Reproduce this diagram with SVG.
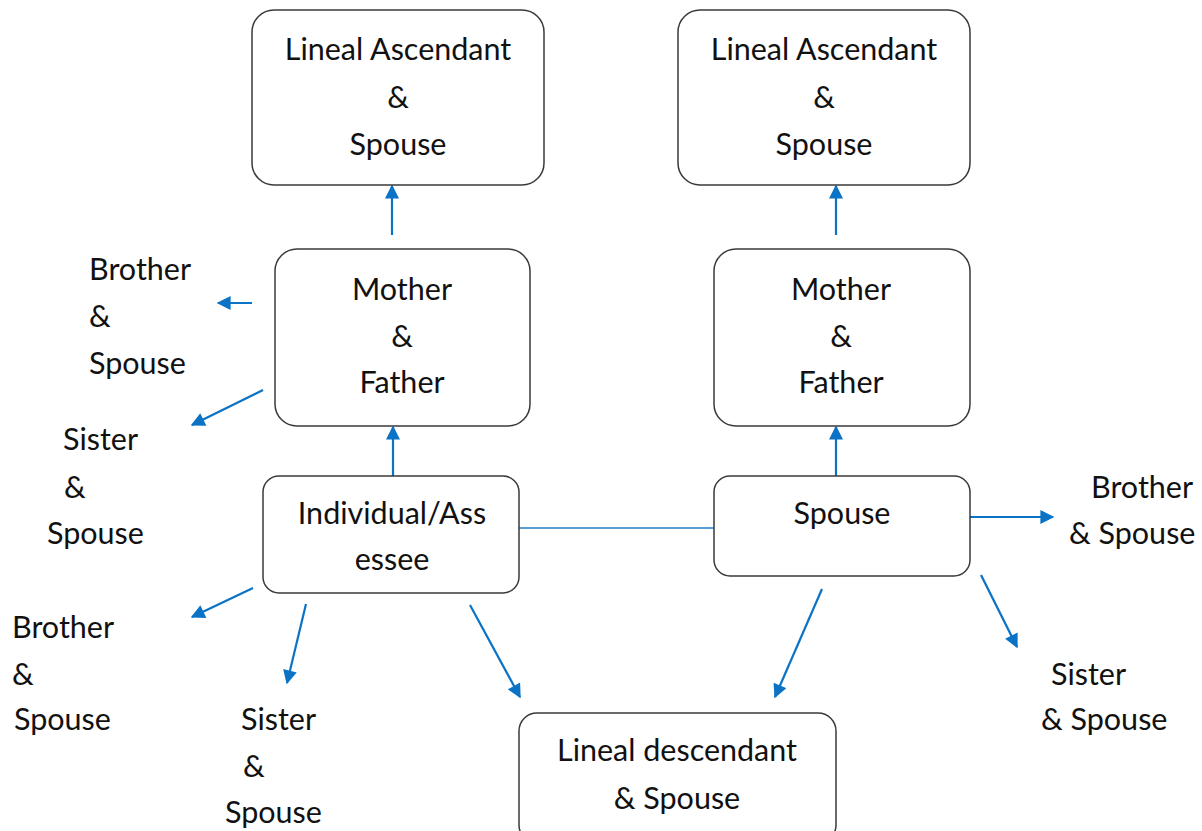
<svg xmlns="http://www.w3.org/2000/svg" width="1202" height="831" viewBox="0 0 1202 831">
<defs>
<style>
.box{fill:#fff;stroke:#3a3a3a;stroke-width:1.5}
text{font-family:Lato,"Liberation Sans",sans-serif;font-size:30.5px;fill:#111}
.c{text-anchor:middle}
.arr{stroke:#0A73C6;stroke-width:2.2;fill:none;marker-end:url(#ah)}
.ln{stroke:#5B9BD5;stroke-width:2;fill:none}
</style>
<marker id="ah" viewBox="0 0 10 10" refX="9" refY="5" markerWidth="15" markerHeight="14" markerUnits="userSpaceOnUse" orient="auto">
<path d="M0,0 L10,5 L0,10 z" fill="#0A73C6"/>
</marker>
</defs>
<rect width="1202" height="831" fill="#fff"/>
<g id="connectors">
<line class="ln" x1="519" y1="528" x2="714" y2="528"/>
<line class="arr" x1="392" y1="235" x2="392" y2="186"/>
<line class="arr" x1="836" y1="235" x2="836" y2="186"/>
<line class="arr" x1="393" y1="476" x2="393" y2="427"/>
<line class="arr" x1="836" y1="476" x2="836" y2="427"/>
<line class="arr" x1="252" y1="303" x2="218" y2="303"/>
<line class="arr" x1="263" y1="390" x2="192" y2="425"/>
<line class="arr" x1="253" y1="588" x2="192" y2="617"/>
<line class="arr" x1="306" y1="604" x2="287" y2="683"/>
<line class="arr" x1="470" y1="605" x2="520" y2="697"/>
<line class="arr" x1="822" y1="589" x2="775" y2="697"/>
<line class="arr" x1="970" y1="517" x2="1053" y2="517"/>
<line class="arr" x1="981" y1="575" x2="1017" y2="647"/>
</g>
<g id="asc-left"><rect class="box" x="252" y="10" width="292" height="175" rx="22"/>
<text class="c" x="398" y="60">Lineal Ascendant</text><text class="c" x="398" y="108">&amp;</text><text class="c" x="398" y="155">Spouse</text></g>
<g id="asc-right"><rect class="box" x="678" y="10" width="292" height="175" rx="22"/>
<text class="c" x="824" y="60">Lineal Ascendant</text><text class="c" x="824" y="108">&amp;</text><text class="c" x="824" y="155">Spouse</text></g>
<g id="parents-left"><rect class="box" x="275" y="249" width="255" height="177" rx="22"/>
<text class="c" x="402" y="300">Mother</text><text class="c" x="402" y="347">&amp;</text><text class="c" x="402" y="393">Father</text></g>
<g id="parents-right"><rect class="box" x="714" y="249" width="256" height="177" rx="22"/>
<text class="c" x="841" y="300">Mother</text><text class="c" x="841" y="347">&amp;</text><text class="c" x="841" y="393">Father</text></g>
<g id="individual"><rect class="box" x="263" y="476" width="256" height="117" rx="16"/>
<text class="c" x="392" y="524">Individual/Ass</text><text class="c" x="392" y="570">essee</text></g>
<g id="spouse"><rect class="box" x="714" y="476" width="256" height="100" rx="16"/>
<text class="c" x="842" y="524">Spouse</text></g>
<g id="descendant"><rect class="box" x="519" y="713" width="317" height="130" rx="18"/>
<text class="c" x="677" y="761">Lineal descendant</text><text class="c" x="677" y="809">&amp; Spouse</text></g>
<g id="brother-parents-left"><text x="89" y="280">Brother</text><text x="89" y="327">&amp;</text><text x="89" y="374">Spouse</text></g>
<g id="sister-parents-left"><text x="63" y="450">Sister</text><text x="64" y="498">&amp;</text><text x="47" y="544">Spouse</text></g>
<g id="brother-ind"><text x="12" y="638">Brother</text><text x="12" y="685">&amp;</text><text x="14" y="730">Spouse</text></g>
<g id="sister-ind"><text x="241" y="730">Sister</text><text x="243" y="777">&amp;</text><text x="225" y="823">Spouse</text></g>
<g id="brother-spouse"><text x="1091" y="498">Brother</text><text x="1069" y="544">&amp; Spouse</text></g>
<g id="sister-spouse"><text x="1051" y="685">Sister</text><text x="1041" y="730">&amp; Spouse</text></g>
</svg>
